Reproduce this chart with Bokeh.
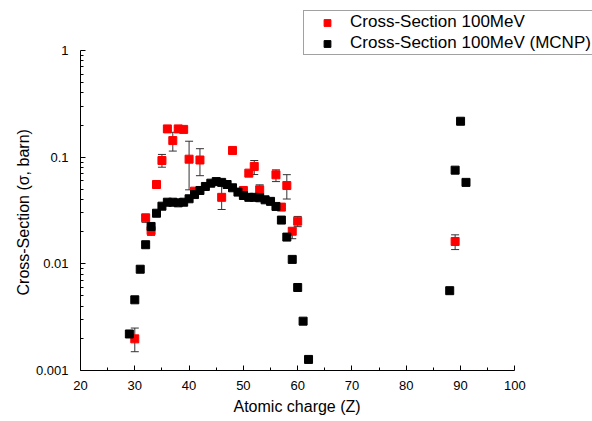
from bokeh.plotting import figure
from bokeh.models import (Range1d, FixedTicker, Whisker, ColumnDataSource, Legend,
                          LegendItem, TeeHead, Title)
from bokeh.embed import file_html
from bokeh.resources import INLINE

# MCNP cross-sections (black)
mcnp_z = [29, 30, 31, 32, 33, 34, 35, 36, 37, 38, 39, 40, 41, 42, 43, 44, 45, 46, 47,
          48, 49, 50, 51, 52, 53, 54, 55, 56, 57, 58, 59, 60, 61, 62, 88, 89, 90, 91]
mcnp_val = [0.0022, 0.0046, 0.0089, 0.0151, 0.0224, 0.0298, 0.0347, 0.0378, 0.0378,
            0.0373, 0.0378, 0.0407, 0.0446, 0.0487, 0.0531, 0.057, 0.059, 0.058, 0.0554,
            0.0516, 0.047, 0.0437, 0.042, 0.042, 0.0416, 0.0398, 0.0385, 0.0345, 0.0257,
            0.0178, 0.011, 0.006, 0.0029, 0.00127, 0.0056, 0.0755, 0.217, 0.058]

# Measured cross-sections (red) with error bounds
exp_z = [30, 32, 33, 34, 35, 36, 37, 38, 39, 40, 41, 42, 46, 48, 50, 51, 52, 53,
         56, 57, 58, 59, 60, 89]
exp_val = [0.00198, 0.027, 0.0205, 0.0554, 0.093, 0.184, 0.143, 0.184, 0.182, 0.0957,
           0.048, 0.094, 0.042, 0.1155, 0.0487, 0.0708, 0.0818, 0.0494, 0.0683, 0.034,
           0.0542, 0.0202, 0.0251, 0.0162]
exp_hi = [0.0025, 0.0285, 0.0215, 0.057, 0.106, 0.19, 0.171, 0.19, 0.19, 0.141,
          0.05, 0.12, 0.059, 0.12, 0.05, 0.073, 0.093, 0.055, 0.076, 0.035,
          0.0685, 0.0215, 0.0278, 0.0187]
exp_lo = [0.0015, 0.0245, 0.0185, 0.054, 0.0805, 0.178, 0.114, 0.178, 0.176, 0.0494,
          0.046, 0.067, 0.0323, 0.111, 0.047, 0.068, 0.0687, 0.0446, 0.059, 0.033,
          0.0405, 0.0172, 0.0223, 0.0136]

x_ticks = [20, 30, 40, 50, 60, 70, 80, 90, 100]
x_minor = [25, 35, 45, 55, 65, 75, 85, 95]
y_ticks = [0.001, 0.01, 0.1, 1]
y_tick_labels = ["0.001", "0.01", "0.1", "1"]
y_minor = [m * d for d in [0.001, 0.01, 0.1] for m in range(2, 10)]

FONT = "Liberation Sans"

# frame spans the whole upper-right area so the legend (which sits above the
# axes' extent, as in the original) is not clipped; axes are bounded to 20-100 / 0.001-1
p = figure(width=592, height=421, y_axis_type="log", output_backend="svg",
           toolbar_location=None, x_range=Range1d(20, 114.3), y_range=Range1d(0.001, 2.94),
           min_border_left=80, min_border_right=0, min_border_top=0,
           min_border_bottom=51)
p.outline_line_color = None
p.xgrid.grid_line_color = None
p.ygrid.grid_line_color = None
p.background_fill_color = "white"
p.border_fill_color = "white"

exp_src = ColumnDataSource(dict(x=exp_z, y=exp_val, hi=exp_hi, lo=exp_lo))
mc_src = ColumnDataSource(dict(x=mcnp_z, y=mcnp_val))

r_exp = p.scatter("x", "y", source=exp_src, marker="square", size=8,
                  fill_color="#ff0000", line_color="#ff0000")
wh = Whisker(source=exp_src, base="x", upper="hi", lower="lo",
             line_color="#333333", line_width=1,
             upper_head=TeeHead(size=8, line_color="#333333", line_width=1),
             lower_head=TeeHead(size=8, line_color="#333333", line_width=1))
p.add_layout(wh)
r_mc = p.scatter("x", "y", source=mc_src, marker="square", size=8,
                 fill_color="black", line_color="black")

for ax in (p.xaxis[0], p.yaxis[0]):
    ax.axis_line_color = "black"
    ax.major_tick_line_color = "black"
    ax.minor_tick_line_color = "black"
    ax.major_tick_in = 5
    ax.major_tick_out = 0
    ax.minor_tick_in = 3
    ax.minor_tick_out = 0
    ax.major_label_text_font = FONT
    ax.major_label_text_font_size = "13px"
    ax.major_label_text_color = "black"

p.xaxis[0].bounds = (x_ticks[0], x_ticks[-1])
p.yaxis[0].bounds = (y_ticks[0], y_ticks[-1])
p.xaxis[0].ticker = FixedTicker(ticks=x_ticks, minor_ticks=x_minor)
p.yaxis[0].ticker = FixedTicker(ticks=y_ticks, minor_ticks=y_minor)
p.yaxis[0].major_label_overrides = {t: l for t, l in zip(y_ticks, y_tick_labels)}
p.xaxis[0].major_label_standoff = 10
p.yaxis[0].major_label_standoff = 12

# axis titles, centred on the bounded axes rather than on the whole frame
x_title = Title(text="Atomic charge (Z)", align="left", offset=153,
                vertical_align="bottom", standoff=7, text_font=FONT,
                text_font_size="16px", text_font_style="normal", text_color="black")
p.add_layout(x_title, "below")
y_title = Title(text="Cross-Section (σ, barn)", align="left", offset=75,
                vertical_align="middle", standoff=0, text_font=FONT,
                text_font_size="16px", text_font_style="normal", text_color="black")
p.add_layout(y_title, "left")

legend = Legend(items=[LegendItem(label="Cross-Section 100MeV", renderers=[r_exp]),
                       LegendItem(label="Cross-Section 100MeV (MCNP)", renderers=[r_mc])],
                location=(223, 315), orientation="vertical",
                padding=1, spacing=1, margin=0,
                glyph_width=44, glyph_height=17, label_height=20, label_standoff=1,
                label_text_font=FONT, label_text_font_size="17px",
                label_text_color="black",
                border_line_color="#444444", border_line_width=1,
                background_fill_color="white", background_fill_alpha=1.0)
p.add_layout(legend, "center")

open("out.html", "w").write(file_html(p, INLINE))
